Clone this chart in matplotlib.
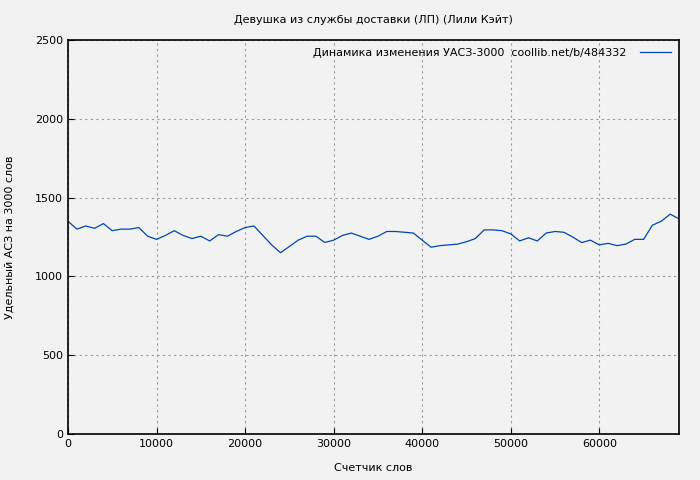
import matplotlib
matplotlib.use("Agg")
import matplotlib.pyplot as plt

words = list(range(0, 70000, 1000))
density = [1350, 1300, 1320, 1305, 1335, 1290, 1300, 1300, 1310, 1255,
           1235, 1260, 1290, 1260, 1240, 1255, 1225, 1265, 1255, 1285,
           1310, 1320, 1260, 1200, 1150, 1190, 1230, 1255, 1255, 1215,
           1230, 1260, 1275, 1255, 1235, 1255, 1285, 1285, 1280, 1275,
           1230, 1185, 1195, 1200, 1205, 1220, 1240, 1295, 1295, 1290,
           1270, 1225, 1245, 1225, 1275, 1285, 1280, 1250, 1215, 1230,
           1200, 1210, 1195, 1205, 1235, 1235, 1325, 1350, 1395, 1365]

bg = "#f2f2f2"
fig = plt.figure(figsize=(7, 4.8), dpi=100, facecolor=bg)
ax = fig.add_axes([68 / 700, 46 / 480, 611 / 700, 394 / 480], facecolor=bg)
ax.plot(words, density, color="#0047b3", linewidth=0.9,
        label="Динамика изменения УАСЗ-3000  coollib.net/b/484332")
ax.set_xlim(0, 69000)
ax.set_ylim(0, 2500)
ax.set_xticks(range(0, 69000, 10000))
ax.set_yticks(range(0, 2501, 500))
ax.grid(True, color="#999999", linestyle=(0, (2, 3)), linewidth=0.8)
ax.tick_params(labelsize=8, direction="in", length=4)
for s in ax.spines.values():
    s.set_linewidth(1.2)
ax.set_title("Девушка из службы доставки (ЛП) (Лили Кэйт)", fontsize=8, pad=12)
ax.set_xlabel("Счетчик слов", fontsize=8, labelpad=10)
ax.set_ylabel("Удельный АСЗ на 3000 слов", fontsize=8, labelpad=15)
leg = ax.legend(loc="upper right", fontsize=8, frameon=False, markerfirst=False,
                handlelength=2.8, handletextpad=1.2, borderaxespad=0.3)
fig.savefig("out.png", facecolor=bg)
